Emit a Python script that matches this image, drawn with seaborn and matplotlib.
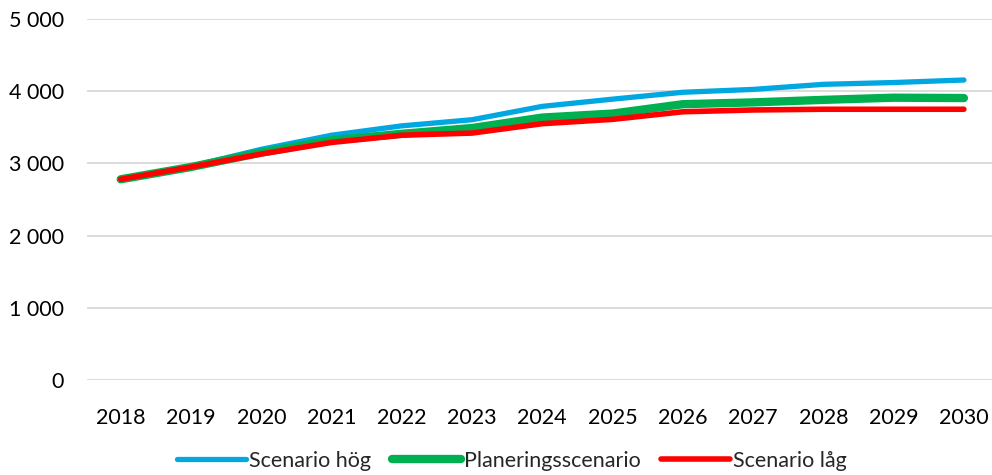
import pandas as pd
import matplotlib
matplotlib.use("Agg")
import matplotlib.pyplot as plt
import seaborn as sns
from matplotlib.ticker import FuncFormatter

# Data
years = list(range(2018, 2031))
hog = [2780, 2960, 3195, 3390, 3520, 3605, 3790, 3890, 3985, 4025, 4095, 4120, 4155]
plan = [2780, 2950, 3150, 3320, 3410, 3490, 3635, 3690, 3820, 3845, 3880, 3910, 3905]
lag = [2780, 2950, 3130, 3290, 3390, 3420, 3550, 3610, 3715, 3740, 3750, 3750, 3750]

series = ["Scenario hög", "Planeringsscenario", "Scenario låg"]
colors = {"Scenario hög": "#00A7E1", "Planeringsscenario": "#00B050", "Scenario låg": "#FF0000"}
widths = {"Scenario hög": 3.8, "Planeringsscenario": 6.0, "Scenario låg": 4.0}

df = pd.DataFrame({"År": years * 3,
                   "Värde": hog + plan + lag,
                   "Scenario": [s for s in series for _ in years]})

sns.set_style("white")
plt.rcParams["font.family"] = ["Lato", "DejaVu Sans"]
fs = 15.5

fig = plt.figure(figsize=(9.92, 4.75), dpi=100)
ax = fig.add_axes([87 / 992, 1 - 380 / 475, 1 - 87 / 992, (380 - 19) / 475])

for s in series:
    sns.lineplot(data=df[df["Scenario"] == s], x="År", y="Värde", ax=ax,
                 color=colors[s], linewidth=widths[s], label=s,
                 solid_capstyle="round", clip_on=False)

ax.set_xlim(2017.52, 2030.4)
ax.set_ylim(0, 5000)
ax.set_xticks(years)
ax.set_yticks(range(0, 5001, 1000))
ax.yaxis.set_major_formatter(FuncFormatter(lambda v, p: f"{int(v):,}".replace(",", " ")))
ax.grid(axis="y", color="#D9D9D9", linewidth=1.3)
ax.set_axisbelow(True)
for sp in ax.spines.values():
    sp.set_visible(False)
ax.tick_params(axis="both", length=0, labelsize=fs, colors="#000000")
ax.tick_params(axis="y", pad=16.5)
ax.tick_params(axis="x", pad=20)
ax.set_xlabel("")
ax.set_ylabel("")

ax.legend(loc="center", bbox_to_anchor=(512 / 992, 1 - 461 / 475),
          bbox_transform=fig.transFigure, ncol=3, frameon=False, fontsize=fs,
          handlelength=3.2, handletextpad=0.15, columnspacing=0.95)

fig.savefig("out.png", dpi=100)
